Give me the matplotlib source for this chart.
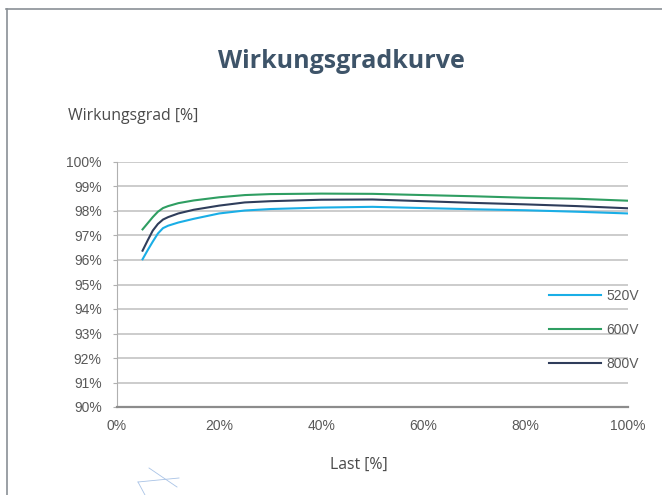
import matplotlib
matplotlib.use("Agg")
from matplotlib import pyplot as plt
from matplotlib.lines import Line2D
from matplotlib.ticker import FuncFormatter

# Daten
last = [5, 6, 7, 8, 9, 10, 12, 15, 20, 25, 30, 40, 50, 60, 70, 80, 90, 100]
v520 = [96.03, 96.4, 96.75, 97.08, 97.3, 97.4, 97.53, 97.68, 97.9, 98.02, 98.08, 98.14, 98.17, 98.12, 98.07, 98.03, 97.97, 97.9]
v600 = [97.25, 97.5, 97.75, 97.97, 98.12, 98.2, 98.32, 98.43, 98.56, 98.65, 98.69, 98.71, 98.7, 98.65, 98.6, 98.54, 98.5, 98.42]
v800 = [96.38, 96.8, 97.2, 97.47, 97.65, 97.75, 97.9, 98.05, 98.22, 98.35, 98.4, 98.46, 98.47, 98.4, 98.33, 98.27, 98.2, 98.11]
serien = ["520V", "600V", "800V"]
farben = ["#1aaee6", "#2f9e62", "#2f3d5b"]

xticks = [0, 20, 40, 60, 80, 100]
yticks = list(range(90, 101))

W, H = 662, 495
fig = plt.figure(figsize=(W / 100, H / 100), dpi=100)
ax = fig.add_axes([117 / W, 1 - 407 / H, (628 - 117) / W, (407 - 162) / H])

for y, name, c in zip([v520, v600, v800], serien, farben):
    ax.plot(last, y, color=c, lw=1.5, label=name, zorder=3)

ax.set_xlim(0, 100)
ax.set_ylim(90, 100)
ax.set_xticks(xticks)
ax.set_yticks(yticks)
fmt = FuncFormatter(lambda v, p: "%d%%" % v)
ax.xaxis.set_major_formatter(fmt)
ax.yaxis.set_major_formatter(fmt)
ax.grid(axis="y", color="#c4c4c4", lw=1.2, zorder=0)
for s in ["top", "right"]:
    ax.spines[s].set_visible(False)
ax.spines["left"].set_color("#b0b0b0")
ax.spines["bottom"].set_color("#8c8c8c")
ax.spines["bottom"].set_linewidth(1.6)
ax.tick_params(axis="y", length=3, color="#b0b0b0", pad=8, labelsize=10, labelcolor="#595959")
ax.tick_params(axis="x", length=0, pad=9, labelsize=10, labelcolor="#595959")
for t in ax.get_xticklabels() + ax.get_yticklabels():
    t.set_family("Liberation Sans")

leg = ax.legend(loc="upper left", bbox_to_anchor=(549 / W, 1 - 289 / H),
                bbox_transform=fig.transFigure, frameon=False,
                handlelength=3.75, handletextpad=0.35, labelspacing=1.45,
                borderpad=0, borderaxespad=0, prop={"family": "Liberation Sans", "size": 10})
for t in leg.get_texts():
    t.set_color("#595959")

fig.text(341 / W, 1 - 61 / H, "Wirkungsgradkurve", ha="center", va="center",
         fontsize=18, fontweight="bold", color="#3e5469", family="Open Sans")
fig.text(68 / W, 1 - 116 / H, "Wirkungsgrad [%]", ha="left", va="center",
         fontsize=11.4, color="#4a4a4a", family="Open Sans")
fig.text(359 / W, 1 - 465 / H, "Last [%]", ha="center", va="center",
         fontsize=11.4, color="#4a4a4a", family="Open Sans")

# Rahmen
fig.add_artist(Line2D([6 / W, 1], [1 - 9 / H, 1 - 9 / H], color="#8a9096", lw=1.2))
fig.add_artist(Line2D([7 / W, 7 / W], [0, 1 - 9 / H], color="#8a9096", lw=1.2))

# Deko-Striche unten links
deko = "#a9c3e6"
fig.add_artist(Line2D([149 / W, 177 / W], [1 - 468 / H, 1 - 487 / H], color=deko, lw=0.6))
fig.add_artist(Line2D([138 / W, 179 / W], [1 - 482 / H, 1 - 478 / H], color=deko, lw=0.6))
fig.add_artist(Line2D([138 / W, 145 / W], [1 - 482 / H, 0], color=deko, lw=0.6))

fig.savefig("out.png", dpi=100)
